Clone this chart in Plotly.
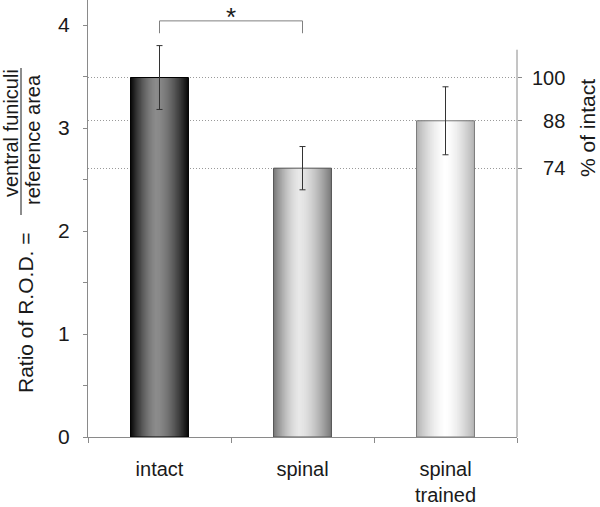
import plotly.graph_objects as go

# ---------------- data ----------------
categories = ["intact", "spinal", "spinal<br>trained"]
means = [3.49, 2.61, 3.07]
errors = [0.31, 0.21, 0.33]
pct_ticktext = ["100", "\u200774", "\u200788"]   # right axis labels at each bar level
y_ticks = [0, 1, 2, 3, 4]
bracket_pair = ["intact", "spinal"]
bracket_top = 4.04
bracket_bottom = 3.92
right_axis_top = 3.76                        # right axis line ends here

# ---------------- style ----------------
FONT = "Liberation Sans, Arial, sans-serif"
TXT = "#1a1a1a"
AX = "#8a8a8a"
edge_col = [(10, 10, 10), (122, 122, 122), (180, 180, 180)]
center_col = [(140, 140, 140), (232, 232, 232), (255, 255, 255)]
outline_col = ["#000000", "#555555", "#7a7a7a"]
hl_pos = [0.45, 0.45, 0.5]
BW = 0.405
NSTEP = 30


def lerp(a, b, s):
    return "rgb(%d,%d,%d)" % tuple(round(a[j] + (b[j] - a[j]) * s) for j in range(3))


fig = go.Figure()

# nested bars -> horizontal gradient
for k in range(NSTEP):
    t = k / NSTEP
    s = 1 - (1 - t) ** 1.6
    offs = [-BW / 2 + t * hl_pos[i] * BW for i in range(3)]
    wids = [BW * (1 - t) for _ in range(3)]
    cols = [lerp(edge_col[i], center_col[i], s) for i in range(3)]
    fig.add_trace(go.Bar(x=categories, y=means, width=wids, offset=offs,
                         marker=dict(color=cols, line=dict(width=0)),
                         hoverinfo="skip", showlegend=False))

# outline
fig.add_trace(go.Bar(x=categories, y=means, width=[BW] * 3, offset=[-BW / 2] * 3,
                     marker=dict(color="rgba(0,0,0,0)",
                                 line=dict(color=outline_col, width=1)),
                     hoverinfo="skip", showlegend=False))

# error bars
fig.add_trace(go.Scatter(x=categories, y=means, mode="markers",
                         marker=dict(size=1, opacity=0),
                         error_y=dict(type="data", array=errors, color="#333333",
                                      thickness=1, width=3),
                         hoverinfo="skip", showlegend=False))

# significance bracket
fig.add_trace(go.Scatter(x=[bracket_pair[0], bracket_pair[0], bracket_pair[1], bracket_pair[1]],
                         y=[bracket_bottom, bracket_top, bracket_top, bracket_bottom],
                         mode="lines", line=dict(color="#808080", width=1),
                         hoverinfo="skip", showlegend=False, cliponaxis=False))

# dummy trace on y2 so the axis renders
fig.add_trace(go.Scatter(x=categories, y=means, yaxis="y2", mode="markers",
                         marker=dict(size=1, opacity=0), hoverinfo="skip",
                         showlegend=False))

PLOT_H = 437
PX_PER_UNIT = 103
Y_MAX = PLOT_H / PX_PER_UNIT

fig.update_layout(
    width=600, height=507,
    margin=dict(l=88, r=83, t=0, b=70, autoexpand=False),
    barmode="overlay",
    plot_bgcolor="white", paper_bgcolor="white",
    font=dict(family=FONT, color=TXT, size=20),
    xaxis=dict(type="category", showline=True, linecolor=AX, linewidth=1,
               ticks="outside", tickson="boundaries", ticklen=5, tickcolor=AX,
               tickfont=dict(size=20, color=TXT), showgrid=False, zeroline=False,
               ticklabelstandoff=14, fixedrange=True),
    yaxis=dict(range=[0, Y_MAX], tickvals=y_ticks, showline=True, linecolor=AX,
               linewidth=1, ticks="outside", ticklen=4, tickcolor=AX,
               minor=dict(dtick=0.5, ticks="outside", ticklen=4, tickcolor=AX, showgrid=False),
               tickfont=dict(size=21, color=TXT), showgrid=False, zeroline=False,
               ticklabelstandoff=9),
    yaxis2=dict(overlaying="y", range=[0, Y_MAX], anchor="x",
                side="right", tickvals=means, ticktext=pct_ticktext,
                showline=False, ticks="outside",
                ticklen=4, tickcolor=AX, tickfont=dict(size=20, color=TXT),
                showgrid=True, gridcolor="#9a9a9a", griddash="1px,2px", gridwidth=1,
                zeroline=False, ticklabelstandoff=6),
)


def px_x(X):
    return (X - 88) / 429


def px_y(Y):
    return (PLOT_H - Y) / PLOT_H


ann = [
    dict(text="Ratio of R.O.D. =", x=px_x(25), y=px_y(313), textangle=-90,
         font=dict(size=21)),
    dict(text="ventral funiculi", x=px_x(11), y=px_y(133), textangle=-90,
         font=dict(size=20)),
    dict(text="reference area", x=px_x(33), y=px_y(140), textangle=-90,
         font=dict(size=20)),
    dict(text="% of intact", x=px_x(588), y=px_y(128), textangle=-90,
         font=dict(size=21)),
]
for a in ann:
    a.update(xref="paper", yref="paper", showarrow=False, xanchor="center",
             yanchor="middle")
    fig.add_annotation(**a)

# significance star, centred between the bracketed bars
fig.add_annotation(x=0.5, y=1, xref="x", yref="paper", text="*",
                   showarrow=False, yanchor="top", font=dict(size=26, color=TXT))

# fraction bar of the y title
fig.add_shape(type="line", xref="paper", yref="paper",
              x0=px_x(21), x1=px_x(21), y0=px_y(68), y1=px_y(215),
              line=dict(color=TXT, width=1))
# right axis line (shorter than the plot)
fig.add_shape(type="line", xref="paper", yref="y",
              x0=1, x1=1, y0=0, y1=right_axis_top,
              line=dict(color=AX, width=1))

fig.write_html("out.html", config={"displayModeBar": False},
               post_script="document.body.style.margin='0';document.body.style.overflow='hidden';")
